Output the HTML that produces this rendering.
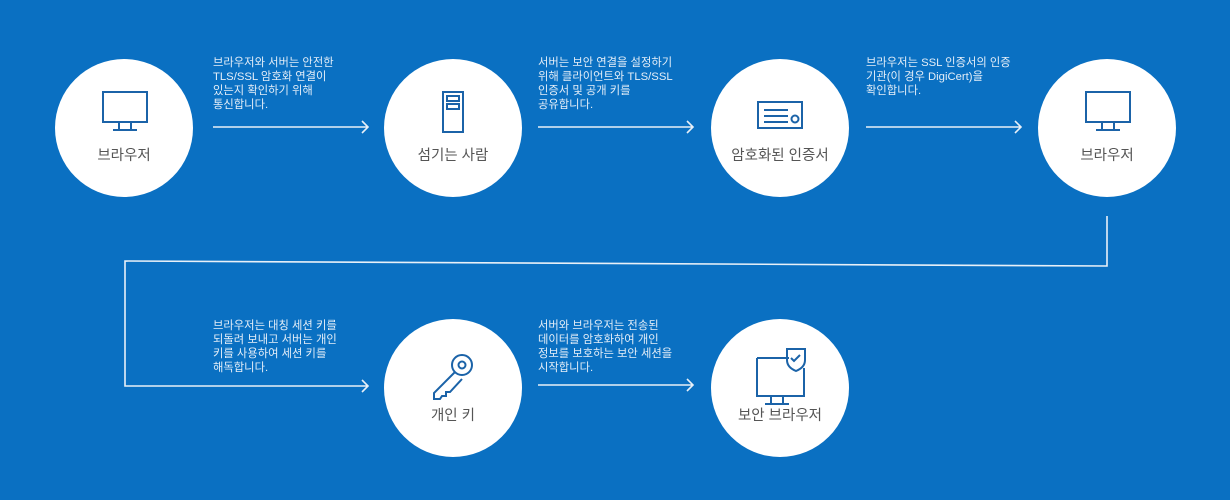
<!DOCTYPE html>
<html><head><meta charset="utf-8"><style>
body{margin:0;background:#0a70c2;}
svg{display:block}
.t{font-family:"Liberation Sans","Noto Sans CJK KR",sans-serif;font-size:11.3px;fill:#e4eef8;}
.l{font-family:"Liberation Sans","Noto Sans CJK KR",sans-serif;font-size:14.5px;fill:#555;text-anchor:middle;}
.i{fill:none;stroke:#1b63a8;stroke-width:2;}
.a{fill:none;stroke:#e8f0f8;stroke-width:1.6;}
</style></head><body>
<svg width="1230" height="500" viewBox="0 0 1230 500">
<rect width="1230" height="500" fill="#0a70c2"/>
<g fill="#fff">
<circle cx="124" cy="128" r="69"/><circle cx="453" cy="128" r="69"/>
<circle cx="780" cy="128" r="69"/><circle cx="1107" cy="128" r="69"/>
<circle cx="453" cy="388" r="69"/><circle cx="780" cy="388" r="69"/>
</g>
<g class="i">
<rect x="103" y="92" width="44" height="30"/><path d="M119 122v8M131 122v8M113 130h24"/>
<rect x="443" y="92" width="20" height="40"/><rect x="447" y="96" width="12" height="5"/><rect x="447" y="104" width="12" height="5"/>
<rect x="758" y="102" width="44" height="26"/><path d="M764 110h24M764 116h24M764 122h24"/><circle cx="795" cy="119" r="3.5"/>
<rect x="1086" y="92" width="44" height="30"/><path d="M1102 122v8M1114 122v8M1096 130h24"/>
<path d="M757 358h32M804 368v28h-47v-38M771 396v8M783 396v8M765 404h24"/>
<path d="M787 349h18v11c0 6-4 9-9 11c-5-2-9-5-9-11z"/><path d="M791 358l3 3l6-6"/>
<circle cx="462" cy="365" r="10"/><circle cx="462" cy="365" r="3.5"/>
<path d="M455 372l-21 21v6h6l2-3h4v-4h4l12-13"/>
</g>
<g class="l">
<text x="124" y="160">브라우저</text><text x="453" y="160">섬기는 사람</text>
<text x="780" y="160">암호화된 인증서</text><text x="1107" y="160">브라우저</text>
<text x="453" y="420">개인 키</text><text x="780" y="420">보안 브라우저</text>
</g>
<g class="a">
<path d="M213 127h155M362 121l6 6l-6 6"/>
<path d="M538 127h155M687 121l6 6l-6 6"/>
<path d="M866 127h155M1015 121l6 6l-6 6"/>
<path d="M1107 216v50L125 261v125h243M362 380l6 6l-6 6"/>
<path d="M538 385h155M687 379l6 6l-6 6"/>
</g>
<g class="t">
<text x="213" y="66">브라우저와 서버는 안전한</text><text x="213" y="80">TLS/SSL 암호화 연결이</text><text x="213" y="94">있는지 확인하기 위해</text><text x="213" y="108">통신합니다.</text>
<text x="538" y="66">서버는 보안 연결을 설정하기</text><text x="538" y="80">위해 클라이언트와 TLS/SSL</text><text x="538" y="94">인증서 및 공개 키를</text><text x="538" y="108">공유합니다.</text>
<text x="866" y="66">브라우저는 SSL 인증서의 인증</text><text x="866" y="80">기관(이 경우 DigiCert)을</text><text x="866" y="94">확인합니다.</text>
<text x="213" y="329">브라우저는 대칭 세션 키를</text><text x="213" y="343">되돌려 보내고 서버는 개인</text><text x="213" y="357">키를 사용하여 세션 키를</text><text x="213" y="371">해독합니다.</text>
<text x="538" y="329">서버와 브라우저는 전송된</text><text x="538" y="343">데이터를 암호화하여 개인</text><text x="538" y="357">정보를 보호하는 보안 세션을</text><text x="538" y="371">시작합니다.</text>
</g>
</svg>
</body></html>
